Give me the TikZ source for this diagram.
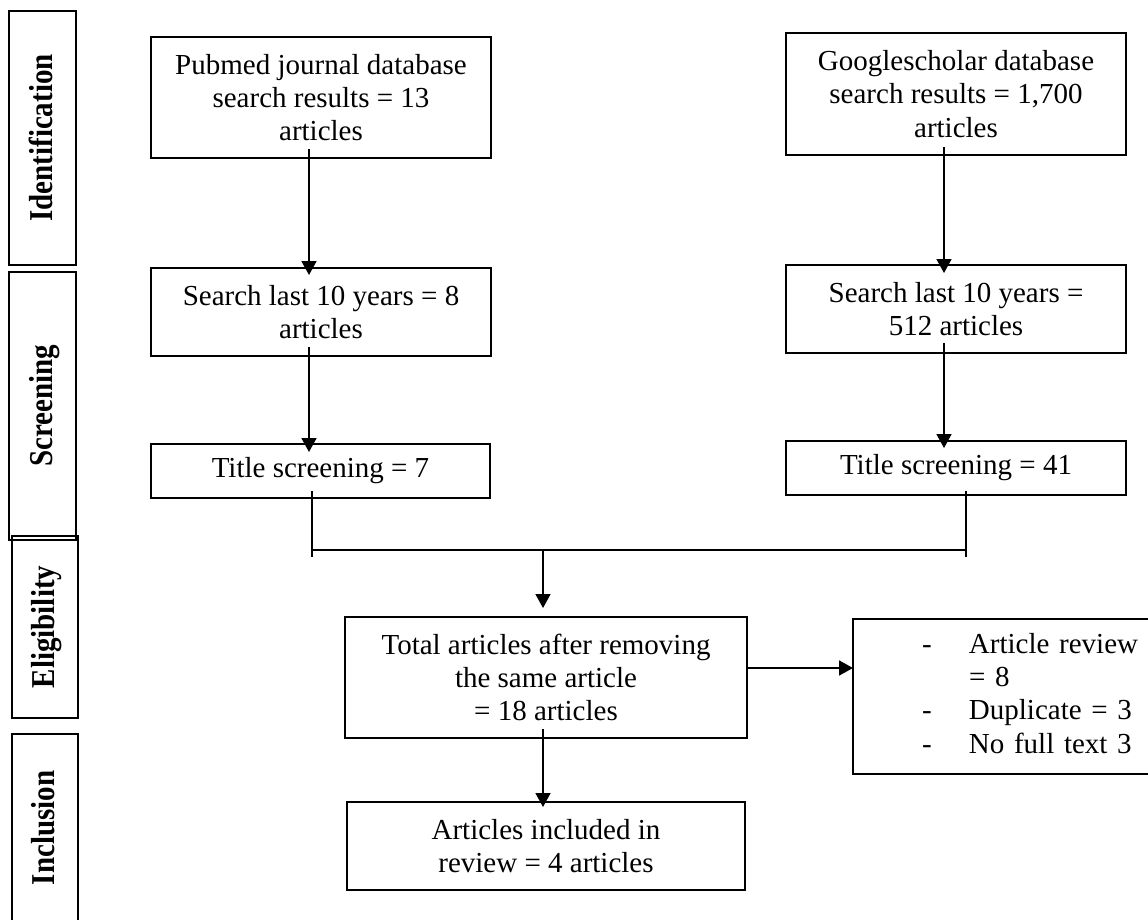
\documentclass[tikz,border=0pt]{standalone}
\usepackage{fontspec}
\setmainfont{Liberation Serif}
\usetikzlibrary{arrows.meta,calc}

\tikzset{
  flowbox/.style={draw, line width=2pt, anchor=north west, align=center, inner sep=0pt, outer sep=0pt, font=\fontsize{29}{33.3}\selectfont},
  sidebox/.style={draw, line width=2pt},
  sidelabel/.style={rotate=90, yscale=1.15, anchor=base, inner sep=0pt, font=\bfseries\fontsize{29}{33}\selectfont},
  link/.style={line width=1.7pt},
  arrow/.style={link, -{Triangle[width=15pt,length=14pt]}},
}

\begin{document}
\begin{tikzpicture}[x=1pt,y=1pt,yscale=-1,xscale=1]
\path[use as bounding box] (0,0) rectangle (1148,920);

%Shape: stage boxes on the left
\draw[sidebox] (9,11) rectangle (76,265);
\draw[sidebox] (9,272) rectangle (76,540);
\draw[sidebox] (12,536) rectangle (78,718);
\draw[sidebox] (12,734) rectangle (78,930);

% Text Node
\node[sidelabel] (lid) at (52,138) {Identification};
% Text Node
\node[sidelabel] (lscr) at (52,406) {Screening};
% Text Node
\node[sidelabel] (lelig) at (54,627) {Eligibility};
% Text Node
\node[sidelabel] (lincl) at (54,828) {Inclusion};

%Shape: flow boxes
\node[flowbox, minimum width=340, minimum height=121] (pubmed) at (151,37) {Pubmed journal database\\search results = 13\\articles};
\node[flowbox, minimum width=340, minimum height=122] (gscholar) at (786,33) {Googlescholar database\\search results = 1,700\\articles};
\node[flowbox, minimum width=340, minimum height=88] (srch1) at (151,268) {Search last 10 years = 8\\articles};
\node[flowbox, minimum width=340, minimum height=88] (srch2) at (786,265) {Search last 10 years =\\512 articles};
\node[flowbox, minimum width=339, minimum height=54] (title1) at (151,444) {Title screening = 7};
\node[flowbox, minimum width=340, minimum height=54] (title2) at (786,441) {Title screening = 41};
\node[flowbox, minimum width=402, minimum height=121] (total) at (345,617) {Total articles after removing\\the same article\\= 18 articles};
\node[flowbox, minimum width=398, minimum height=88] (incl) at (347,802) {Articles included in\\review = 4 articles};
\node[flowbox, minimum height=155, text width=310, align=left] (excl) at (853,619) {\hspace*{69pt}\begin{tabular}{@{}p{47pt}@{}l@{}}-&Article review\\&= 8\\-&Duplicate = 3\\-&No full text 3\end{tabular}};

%Straight Lines: connectors
\coordinate (cl) at (309,0);
\coordinate (cr) at (944,0);
\coordinate (jl) at (312,557);
\coordinate (jr) at (966,557);
\coordinate (jm) at (543,550);
\coordinate (rw) at (0,668);

\draw[arrow] ($(cl |- pubmed.south)+(0,-9)$) -- ($(cl |- srch1.north)+(0,7)$);
\draw[arrow] ($(cr |- gscholar.south)+(0,-8)$) -- ($(cr |- srch2.north)+(0,8)$);
\draw[arrow] ($(cl |- srch1.south)+(0,-9)$) -- ($(cl |- title1.north)+(0,8)$);
\draw[arrow] ($(cr |- srch2.south)+(0,-10)$) -- ($(cr |- title2.north)+(0,7)$);
\draw[link] ($(jl |- title1.south)+(0,-7)$) -- (jl);
\draw[link] ($(jr |- title2.south)+(0,-4)$) -- (jr);
\draw[link] (jl |- jm) -- (jr |- jm);
\draw[arrow] (jm) -- ($(jm |- total.north)+(0,-9)$);
\draw[arrow] ($(jm |- total.south)+(0,-9)$) -- ($(jm |- incl.north)+(0,5)$);
\draw[arrow] (total.east |- rw) -- (excl.west |- rw);

\end{tikzpicture}
\end{document}
